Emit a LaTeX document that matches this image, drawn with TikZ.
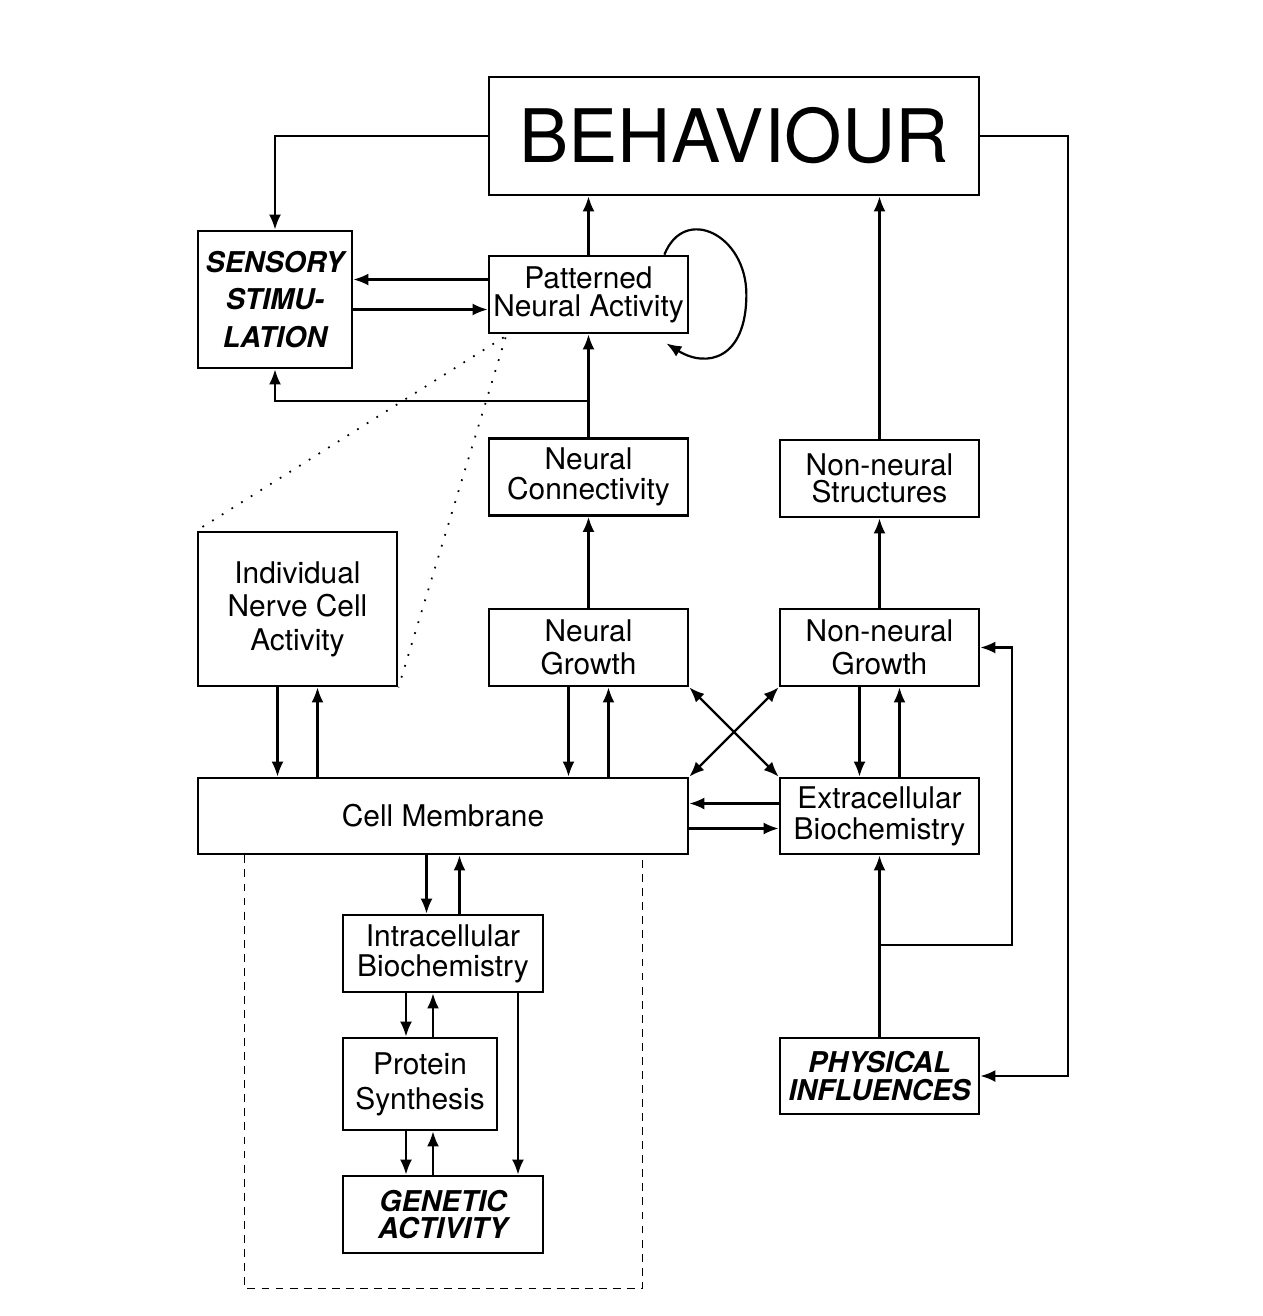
\documentclass[tikz,border=0pt]{standalone}
\usepackage{fontspec}
\setmainfont{TeX Gyre Heros}
\usepackage{tikz}
\usetikzlibrary{arrows.meta,calc}
\tikzset{%
  block/.style    = {draw, line width=1.6pt, rectangle, inner sep=0pt, align=center,
    minimum width=3.98cm, minimum height=1.54cm, font=\fontsize{17}{19}\selectfont},
  wide/.style     = {minimum width=9.8cm}, % long boxes
  loud/.style     = {font=\fontsize{16.3}{#1}\selectfont\bfseries\itshape}, % bold italic
  lead/.style     = {font=\fontsize{17}{#1}\selectfont},
  link/.style     = {->, line width=1.25pt},
  zoomline/.style = {line width=1pt, dash pattern=on 1pt off 5.5pt},
  cellbox/.style  = {line width=0.9pt, dash pattern=on 4.5pt off 3.5pt}
}
\newcommand{\cellmark}{Cell Membrane}

\begin{document}
\begin{tikzpicture}[x=0.02cm, y=-0.02cm, >={Latex[length=3mm,width=2.4mm]}]
        \useasboundingbox (0,0) rectangle (1262,1316);
        \draw
            node [block, wide, minimum height=2.36cm, font=\fontsize{42}{46}\selectfont] (behav) at (734,136) {BEHAVIOUR}
            node [block, loud=21.5, minimum width=3.08cm, minimum height=2.74cm] (sens) at (275,299.5) {SENSORY\\STIMU-\\LATION}
            node [block, lead=16] (pna) at (588.5,294.5) {Patterned\\Neural Activity}
            node [block, lead=17] (ncon) at (588.5,477) {Neural\\Connectivity}
            node [block, lead=15.5] (nns) at (879.5,478.5) {Non-neural\\Structures}
            node [block, minimum height=3.08cm] (indiv) at (297.5,609) {Individual\\Nerve Cell\\Activity}
            node [block] (ngr) at (588.5,647.5) {Neural\\Growth}
            node [block] (nngr) at (879.5,647.5) {Non-neural\\Growth}
            node [block, wide, minimum height=1.52cm] (memb) at (443,816) {\cellmark}
            node [block, lead=17.5, minimum height=1.52cm] (extra) at (879.5,816) {Extracellular\\Biochemistry}
            node [block, lead=17, minimum width=4cm] (intra) at (443,953.5) {Intracellular\\Biochemistry}
            node [block, lead=20, minimum width=3.08cm, minimum height=1.84cm] (prot) at (420,1084) {Protein\\Synthesis}
            node [block, loud=15.5, minimum width=4cm] (gen) at (443,1214.5) {GENETIC\\ACTIVITY}
            node [block, loud=15.5, minimum height=1.52cm] (phys) at (879.5,1076) {PHYSICAL\\INFLUENCES};

        \coordinate (rail1) at (1068,136);
        \coordinate (tap1) at (588.5,401);
        \coordinate (tap2) at (879.5,945);
        \coordinate (rail2) at (1012,945);

        % behaviour feeds back
        \draw[link] (behav.west) -| (sens.north);
        \draw[link] (behav.east) -- (rail1) |- (phys.east);
        \draw[link] (pna.north) -- (pna.north |- behav.south);
        \draw[link] (nns.north) -- (nns.north |- behav.south);

        % sensory loop
        \draw[link] ([yshift=0.3cm]pna.west) -- ([yshift=0.3cm]pna.west -| sens.east);
        \draw[link] ([yshift=-0.3cm]pna.west -| sens.east) -- ([yshift=-0.3cm]pna.west);
        \draw[link] (ncon) -- (pna);
        \draw[link] (tap1) -| (sens.south);
        \draw[link] ([xshift=-0.5cm]pna.north east) .. controls +(0.4cm,1cm) and +(0cm,1.2cm) .. ([xshift=1.14cm]pna.east)
            .. controls +(0cm,-1.3cm) and +(0.8cm,-0.5cm) .. ([xshift=-0.46cm,yshift=-0.18cm]pna.south east);

        % growth
        \draw[link] (ngr) -- (ncon);
        \draw[link] (nngr) -- (nns);
        \draw[link] ([xshift=-0.4cm]indiv.south) -- ([xshift=-0.4cm]indiv.south |- memb.north);
        \draw[link] ([xshift=0.4cm]indiv.south |- memb.north) -- ([xshift=0.4cm]indiv.south);
        \draw[link] ([xshift=-0.4cm]ngr.south) -- ([xshift=-0.4cm]ngr.south |- memb.north);
        \draw[link] ([xshift=0.4cm]ngr.south |- memb.north) -- ([xshift=0.4cm]ngr.south);
        \draw[link] ([xshift=-0.4cm]nngr.south) -- ([xshift=-0.4cm]nngr.south |- extra.north);
        \draw[link] ([xshift=0.4cm]nngr.south |- extra.north) -- ([xshift=0.4cm]nngr.south);
        \draw[link, <->] (ngr.south east) -- (extra.north west);
        \draw[link, <->] (nngr.south west) -- (memb.north east);
        \draw[link] ([yshift=0.25cm]extra.west) -- ([yshift=0.25cm]extra.west -| memb.east);
        \draw[link] ([yshift=-0.25cm]extra.west -| memb.east) -- ([yshift=-0.25cm]extra.west);

        % inside the cell
        \draw[link] ([xshift=-0.33cm]intra.north |- memb.south) -- ([xshift=-0.33cm]intra.north);
        \draw[link] ([xshift=0.33cm]intra.north) -- ([xshift=0.33cm]intra.north |- memb.south);
        \draw[link] ([xshift=-0.28cm]prot.north |- intra.south) -- ([xshift=-0.28cm]prot.north);
        \draw[link] ([xshift=0.26cm]prot.north) -- ([xshift=0.26cm]prot.north |- intra.south);
        \draw[link] ([xshift=-0.28cm]prot.south) -- ([xshift=-0.28cm]prot.south |- gen.north);
        \draw[link] ([xshift=0.26cm]prot.south |- gen.north) -- ([xshift=0.26cm]prot.south);
        \draw[link] ([xshift=1.5cm]intra.south) -- ([xshift=1.5cm]intra.south |- gen.north);

        % outside influences
        \draw[link] (phys) -- (extra);
        \draw[link] (tap2) -- (rail2) |- (nngr.east);

        % zoom on a single cell
        \draw[zoomline] ([xshift=0.32cm,yshift=-0.06cm]pna.south west) -- (indiv.north west);
        \draw[zoomline] ([xshift=0.36cm,yshift=-0.06cm]pna.south west) -- (indiv.south east);
        \draw[cellbox] ([xshift=0.96cm]memb.south west) -- ++(0,-8.66cm) -| ([xshift=-0.94cm]memb.south east);
        \end{tikzpicture}
\end{document}
